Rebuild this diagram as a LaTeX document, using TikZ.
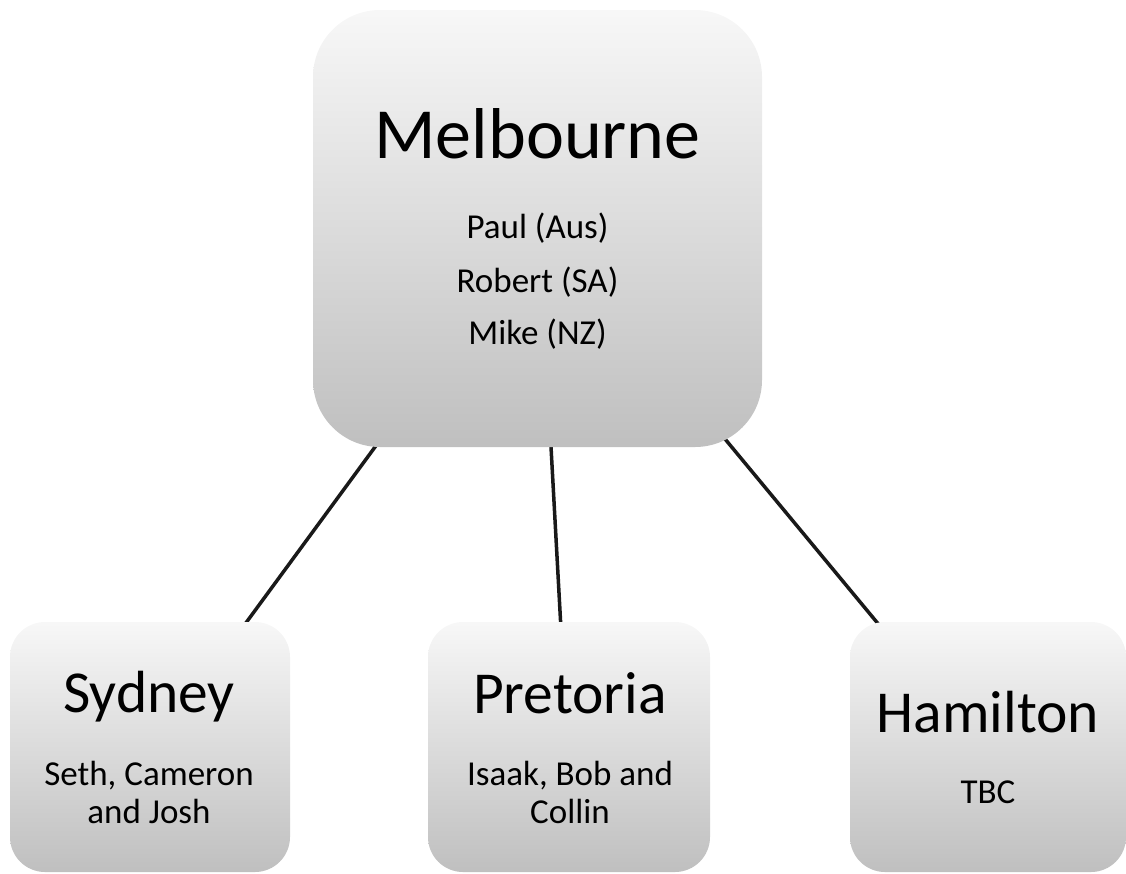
\documentclass[tikz,border=0pt]{standalone}
\usepackage{fontspec}
\setmainfont{Carlito}
\usetikzlibrary{calc}
\pgfdeclarelayer{bg}
\pgfsetlayers{bg,main}
\begin{document}
\begin{tikzpicture}[x=1pt,y=-1pt,
  box/.style={draw=none, top color=white!97!black, bottom color=black!25, inner sep=0pt},
  bigbox/.style={box, rounded corners=67pt},
  smallbox/.style={box, rounded corners=35pt, minimum height=250pt},
  title/.style={anchor=base, font=\fontsize{72}{72}\selectfont},
  ctitle/.style={anchor=base, font=\fontsize{59.5}{59.5}\selectfont},
  sub/.style={anchor=base, font=\fontsize{35}{35}\selectfont},
  link/.style={line width=3.5pt, draw=black!90}]
\useasboundingbox (0,0) rectangle (1126,873);
% boxes
\node[bigbox, minimum width=449pt, minimum height=437pt] (mel) at (537.5,228.5) {};
\node[smallbox, minimum width=280pt] (syd) at (150,747) {};
\node[smallbox, minimum width=282pt] (pre) at (569,747) {};
\node[smallbox, minimum width=276pt] (ham) at (988,747) {};
% texts
\node[title] (melT) at (537.5,158) {Melbourne};
\node[sub] (mel1) at (537.5,238) {Paul (Aus)};
\node[sub] (mel2) at (537.5,292) {Robert (SA)};
\node[sub] (mel3) at (537.5,344) {Mike (NZ)};
\node[ctitle] (sydT) at (149,712) {Sydney};
\node[sub] (syd1) at (149,785) {Seth, Cameron};
\node[sub] (syd2) at (149,823) {and Josh};
\node[ctitle] (preT) at (570,713) {Pretoria};
\node[sub] (pre1) at (570,785) {Isaak, Bob and};
\node[sub] (pre2) at (570,823) {Collin};
\node[ctitle] (hamT) at (988,732) {Hamilton};
\node[sub] (ham1) at (988,803) {TBC};
% connectors
\begin{pgfonlayer}{bg}
\draw[link] ($(mel.south west)+(65,-4)$) -- ($(syd.north west)+(234,4)$);
\draw[link] ($(mel.south west)+(238,-4)$) -- ($(pre.north west)+(133,4)$);
\draw[link] ($(mel.south east)+(-37,-8)$) -- ($(ham.north west)+(30,4)$);
\end{pgfonlayer}
\end{tikzpicture}
\end{document}
